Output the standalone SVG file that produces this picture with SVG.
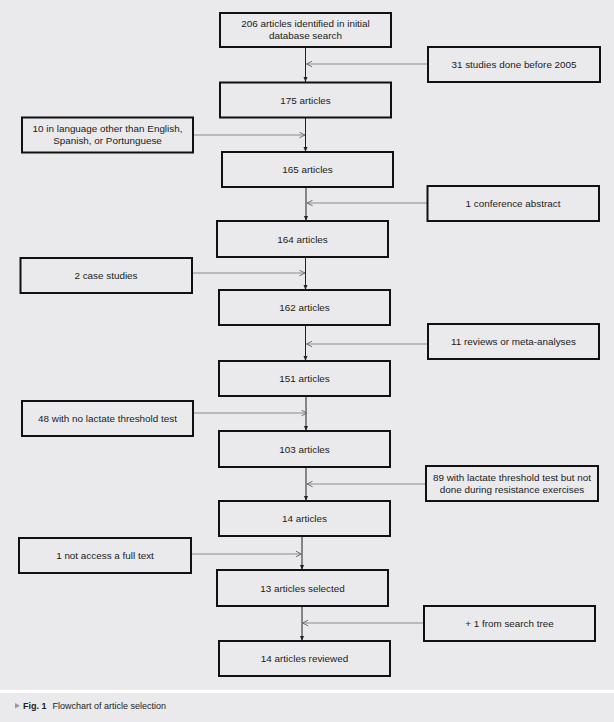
<svg xmlns="http://www.w3.org/2000/svg" width="614" height="722" viewBox="0 0 614 722">
<style>
  .bg { fill: #eaeaec; }
  .box { fill: #eaeaec; stroke: #111; stroke-width: 2; }
  .t { font-family: "Liberation Sans", Arial, sans-serif; font-size: 9.9px; fill: #1a1a1a; text-anchor: middle; }
  .v { stroke: #222; stroke-width: 1; fill: none; }
  .h { stroke: #8a8a8a; stroke-width: 1; fill: none; }
  .cap { font-family: "Liberation Sans", Arial, sans-serif; font-size: 9px; fill: #222; }
</style>
<defs>
  <marker id="ah" viewBox="0 0 10 10" refX="10" refY="5" markerWidth="5" markerHeight="5" markerUnits="userSpaceOnUse" orient="auto">
    <path d="M0,1 L10,5 L0,9 z" fill="#222"/>
  </marker>
  <marker id="ch" viewBox="0 0 10 10" refX="9" refY="5" markerWidth="7" markerHeight="7" markerUnits="userSpaceOnUse" orient="auto">
    <path d="M1,1 L9,5 L1,9" fill="none" stroke="#666" stroke-width="1.3"/>
  </marker>
</defs>
<rect class="bg" x="0" y="0" width="614" height="722"/>
<rect x="0" y="690" width="614" height="3" fill="#ffffff"/>

<g id="connectors">
  <line class="v" x1="305.5" y1="47" x2="305.5" y2="82" marker-end="url(#ah)"/>
  <line class="v" x1="305.5" y1="117.5" x2="305.5" y2="152" marker-end="url(#ah)"/>
  <line class="v" x1="306" y1="187" x2="306" y2="221" marker-end="url(#ah)"/>
  <line class="v" x1="305.5" y1="257" x2="305.5" y2="290" marker-end="url(#ah)"/>
  <line class="v" x1="305.5" y1="325" x2="305.5" y2="361" marker-end="url(#ah)"/>
  <line class="v" x1="306" y1="396" x2="306" y2="431" marker-end="url(#ah)"/>
  <line class="v" x1="306" y1="467" x2="306" y2="501" marker-end="url(#ah)"/>
  <line class="v" x1="302" y1="536" x2="302" y2="570" marker-end="url(#ah)"/>
  <line class="v" x1="302" y1="606" x2="302" y2="641" marker-end="url(#ah)"/>

  <line class="h" x1="428" y1="64" x2="306.5" y2="64" marker-end="url(#ch)"/>
  <line class="h" x1="193" y1="135" x2="305" y2="135" marker-end="url(#ch)"/>
  <line class="h" x1="427.5" y1="203" x2="307" y2="203" marker-end="url(#ch)"/>
  <line class="h" x1="192" y1="273" x2="305" y2="273" marker-end="url(#ch)"/>
  <line class="h" x1="428" y1="344" x2="306.5" y2="344" marker-end="url(#ch)"/>
  <line class="h" x1="193" y1="413" x2="307" y2="413" marker-end="url(#ch)"/>
  <line class="h" x1="426" y1="484" x2="307" y2="484" marker-end="url(#ch)"/>
  <line class="h" x1="191" y1="554" x2="301.5" y2="554" marker-end="url(#ch)"/>
  <line class="h" x1="424" y1="623" x2="302.5" y2="623" marker-end="url(#ch)"/>
</g>

<g id="n206">
  <rect class="box" x="220" y="13" width="171" height="34"/>
  <text class="t" x="305.5" y="27">206 articles identified in initial</text>
  <text class="t" x="305.5" y="38.5">database search</text>
</g>
<g id="n31">
  <rect class="box" x="428" y="47" width="172" height="35"/>
  <text class="t" x="514" y="68">31 studies done before 2005</text>
</g>
<g id="n175">
  <rect class="box" x="220" y="82.5" width="171" height="35"/>
  <text class="t" x="305.5" y="103.5">175 articles</text>
</g>
<g id="n10">
  <rect class="box" x="22" y="117.5" width="171" height="35"/>
  <text class="t" x="107.5" y="132">10 in language other than English,</text>
  <text class="t" x="107.5" y="143.5">Spanish, or Portunguese</text>
</g>
<g id="n165">
  <rect class="box" x="222" y="152" width="171" height="35"/>
  <text class="t" x="307.5" y="173">165 articles</text>
</g>
<g id="n1conf">
  <rect class="box" x="427.5" y="186" width="171.5" height="35"/>
  <text class="t" x="513" y="207">1 conference abstract</text>
</g>
<g id="n164">
  <rect class="box" x="217" y="221" width="171" height="36"/>
  <text class="t" x="302.5" y="242.5">164 articles</text>
</g>
<g id="n2case">
  <rect class="box" x="20.5" y="258" width="171.5" height="35"/>
  <text class="t" x="106" y="279">2 case studies</text>
</g>
<g id="n162">
  <rect class="box" x="219" y="290" width="171" height="35"/>
  <text class="t" x="304.5" y="311">162 articles</text>
</g>
<g id="n11">
  <rect class="box" x="428" y="324" width="171" height="35"/>
  <text class="t" x="513.5" y="345">11 reviews or meta-analyses</text>
</g>
<g id="n151">
  <rect class="box" x="219" y="361" width="171" height="35"/>
  <text class="t" x="304.5" y="382">151 articles</text>
</g>
<g id="n48">
  <rect class="box" x="22" y="401" width="171" height="35"/>
  <text class="t" x="107.5" y="422">48 with no lactate threshold test</text>
</g>
<g id="n103">
  <rect class="box" x="219" y="431" width="171" height="36"/>
  <text class="t" x="304.5" y="452.5">103 articles</text>
</g>
<g id="n89">
  <rect class="box" x="426" y="466" width="172" height="35"/>
  <text class="t" x="512" y="480.5">89 with lactate threshold test but not</text>
  <text class="t" x="512" y="492.5">done during resistance exercises</text>
</g>
<g id="n14">
  <rect class="box" x="219" y="501" width="171" height="35"/>
  <text class="t" x="304.5" y="522">14 articles</text>
</g>
<g id="n1not">
  <rect class="box" x="19" y="538" width="172" height="35"/>
  <text class="t" x="105" y="559">1 not access a full text</text>
</g>
<g id="n13">
  <rect class="box" x="217" y="570" width="171" height="36"/>
  <text class="t" x="302.5" y="591.5">13 articles selected</text>
</g>
<g id="nplus1">
  <rect class="box" x="424" y="606" width="171" height="35"/>
  <text class="t" x="509.5" y="627">+ 1 from search tree</text>
</g>
<g id="nreviewed">
  <rect class="box" x="219" y="641" width="171" height="35"/>
  <text class="t" x="304.5" y="662">14 articles reviewed</text>
</g>

<g id="caption">
  <polygon points="15,703 15,708.5 20,705.75" fill="#9a9a9a"/>
  <text class="cap" x="23" y="709"><tspan font-weight="bold">Fig. 1</tspan><tspan x="52.5">Flowchart of article selection</tspan></text>
</g>
</svg>
